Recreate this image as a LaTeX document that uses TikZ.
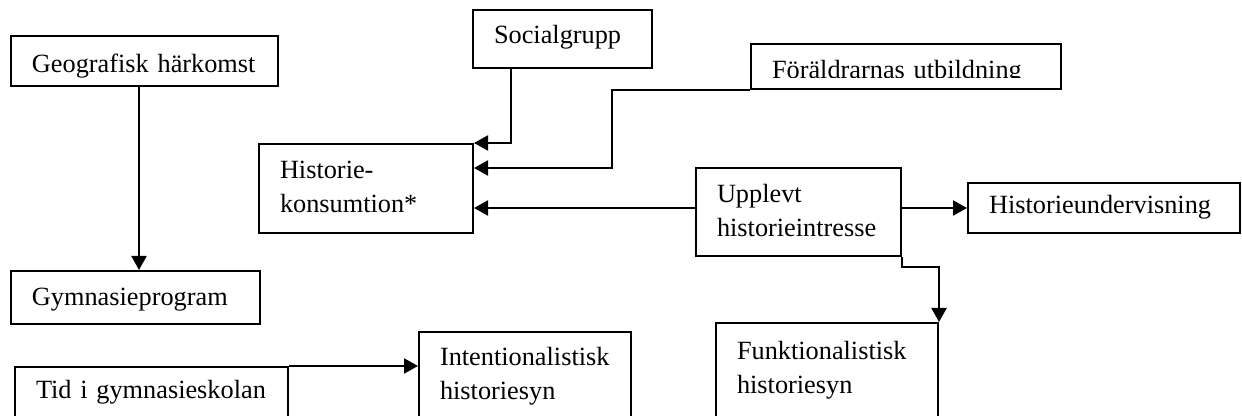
\documentclass[tikz,border=0pt]{standalone}
\usepackage{fontspec}
\setmainfont{Liberation Serif}
\usepackage{trimclip}
\usetikzlibrary{arrows.meta}
\tikzset{
	faktor/.style={draw, line width=1pt, anchor=north west, align=left, inner xsep=10.5pt, inner ysep=0pt, font=\fontsize{13.15pt}{17pt}\selectfont},
	pil/.style={line width=1pt, -{Triangle[length=7pt, width=7.5pt]}},
}

\begin{document}
\begin{tikzpicture}[x=0.5pt, y=-0.5pt]
			%%%%% START %%%%%
			
			\clip (0, 0) rectangle (1242, 416);
			
			\node[faktor, text width=112.5pt, text height=18.5pt, text depth=6.5pt] (geo) at (10, 35) {Geografisk härkomst};
			\node[faktor, text width=103.5pt, text height=17.5pt, text depth=9pt] (gym) at (10, 270) {Gymnasieprogram};
			\draw[pil] ([xshift=-2.75pt]geo.south) -- ([xshift=-2.75pt]geo.south |- gym.north);
			
			\node[faktor, text width=68.5pt, text height=17pt, text depth=12pt] (soc) at (472, 9) {Socialgrupp};
			\node[faktor, text width=134pt, text height=17pt, text depth=5.5pt] (foraldrar) at (750, 43) {\clipbox{0pt 2.9pt 0pt 0pt}{Föräldrarnas utbildning}};
			\node[faktor, text width=86pt, text height=17.5pt, text depth=27pt] (konsum) at (258, 143) {Historie-\\konsumtion*};
			
			\draw[pil] (soc.south west) ++(39, 0) |- (konsum.north east);
			\draw[pil] (foraldrar.south west) -| ++(-138, 78) coordinate (knick) -- (knick -| konsum.east);
			
			\node[faktor, text width=81.5pt, text height=17.5pt, text depth=26.5pt] (intresse) at (695, 167) {Upplevt\\historieintresse};
			\node[faktor, text width=115pt, text height=15.5pt, text depth=9.5pt] (undervis) at (967, 182) {Historieundervisning};
			
			\draw[pil] ([yshift=2pt]intresse.west) -- ([yshift=2pt]intresse.west -| konsum.east);
			\draw[pil] (intresse.east |- undervis.west) -- (undervis.west);
			
			\node[faktor, text width=90pt, text height=18.5pt, text depth=34pt] (funk) at (715, 322) {Funktionalistisk\\historiesyn};
			\draw[pil] (intresse.south east) -- ++(0, 10) -| (funk.north east);
			
			\node[faktor, text width=115.5pt, text height=16pt, text depth=14pt] (tid) at (14, 366) {Tid i gymnasieskolan};
			\node[faktor, text width=85pt, text height=17pt, text depth=30pt] (intent) at (418, 331) {Intentionalistisk\\historiesyn};
			\draw[pil] (tid.north east) -- (tid.north east -| intent.west);
			
			%%%%% END %%%%%
\end{tikzpicture}
\end{document}
